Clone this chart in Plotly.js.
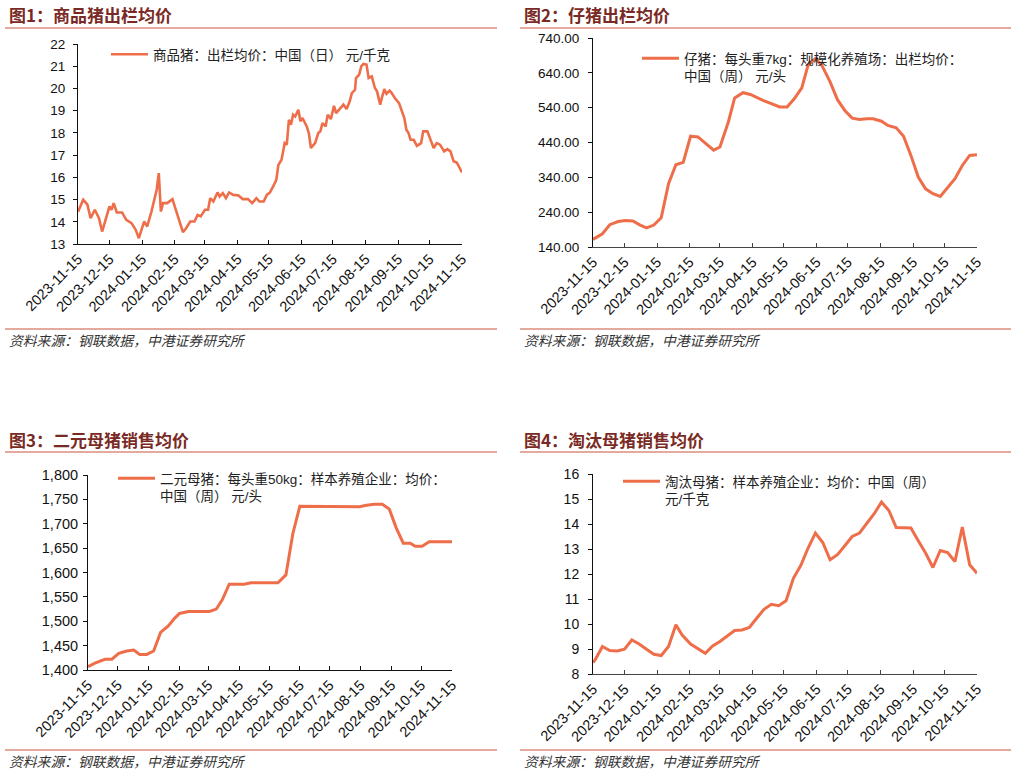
<!DOCTYPE html>
<html>
<head>
<meta charset="utf-8">
<script src="https://cdn.plot.ly/plotly-3.0.1.min.js"></script>
<style>
  html, body { margin: 0; padding: 0; background: #fff; }
  #chart { width: 1017px; height: 772px; }
</style>
</head>
<body>
<div id="chart"></div>
<script>
// ---------- Data ----------
const tickDates = ['2023-11-15','2023-12-15','2024-01-15','2024-02-15','2024-03-15','2024-04-15',
  '2024-05-15','2024-06-15','2024-07-15','2024-08-15','2024-09-15','2024-10-15','2024-11-15'];

// 图1 商品猪：出栏均价：中国（日） 元/千克
const dates1 = ['2023-11-15','2023-11-20','2023-11-24','2023-11-27','2023-12-01','2023-12-05','2023-12-08',
  '2023-12-11','2023-12-15','2023-12-17','2023-12-19','2023-12-22','2023-12-27','2023-12-31','2024-01-05',
  '2024-01-09','2024-01-12','2024-01-17','2024-01-20','2024-01-24','2024-01-27','2024-01-29','2024-01-31',
  '2024-02-02','2024-02-04','2024-02-08','2024-02-13','2024-02-17','2024-02-20','2024-02-23','2024-02-26',
  '2024-03-01','2024-03-05','2024-03-08','2024-03-11','2024-03-15','2024-03-18','2024-03-20','2024-03-23',
  '2024-03-27','2024-03-29','2024-04-01','2024-04-04','2024-04-07','2024-04-11','2024-04-16','2024-04-20',
  '2024-04-25','2024-04-29','2024-05-03','2024-05-06','2024-05-10','2024-05-13','2024-05-16','2024-05-19',
  '2024-05-22','2024-05-24','2024-05-27','2024-05-30','2024-06-01','2024-06-03','2024-06-05','2024-06-07',
  '2024-06-09','2024-06-12','2024-06-14','2024-06-16','2024-06-20','2024-06-22','2024-06-24','2024-06-28',
  '2024-07-01','2024-07-03','2024-07-05','2024-07-08','2024-07-10','2024-07-13','2024-07-16','2024-07-18',
  '2024-07-21','2024-07-25','2024-07-28','2024-07-31','2024-08-02','2024-08-05','2024-08-06','2024-08-09',
  '2024-08-11','2024-08-13','2024-08-16','2024-08-18','2024-08-21','2024-08-24','2024-08-26','2024-08-29',
  '2024-08-31','2024-09-02','2024-09-04','2024-09-07','2024-09-09','2024-09-12','2024-09-16','2024-09-19',
  '2024-09-21','2024-09-23','2024-09-25','2024-09-27','2024-09-30','2024-10-03','2024-10-07','2024-10-09',
  '2024-10-13','2024-10-16','2024-10-19','2024-10-22','2024-10-25','2024-10-29','2024-11-01','2024-11-04',
  '2024-11-07','2024-11-10','2024-11-12','2024-11-15'];
const price1 = [14.45,14.99,14.77,14.16,14.54,14.16,13.56,
  14.09,14.69,14.54,14.84,14.42,14.42,14.09,13.94,
  13.64,13.26,14.01,13.79,14.46,14.99,15.44,16.19,
  14.46,14.84,14.84,15.02,14.39,13.94,13.53,13.71,
  14.01,14.01,14.31,14.24,14.54,14.54,15.06,14.91,
  15.32,15.14,15.29,15.06,15.32,15.21,15.18,15.02,
  15.02,14.84,15.06,14.91,14.91,15.21,15.32,15.59,
  15.89,16.56,16.79,17.54,17.47,18.59,18.37,18.82,
  18.74,19.04,18.52,18.67,18.29,17.99,17.32,17.54,
  17.99,18.07,18.44,18.29,18.82,18.62,19.22,18.89,
  19.04,19.27,19.07,19.42,19.79,19.94,20.47,20.62,
  20.99,21.10,21.07,20.47,20.54,20.02,19.87,19.27,
  19.64,19.97,19.76,19.90,19.79,19.57,19.34,18.89,
  18.67,18.14,17.99,17.69,17.69,17.42,17.54,18.07,
  18.07,17.69,17.32,17.54,17.47,17.17,17.27,17.17,
  16.72,16.67,16.49,16.22];

// 图2 仔猪：每头重7kg：规模化养殖场：出栏均价：中国（周） 元/头
const dates2 = ['2023-11-15','2023-11-24','2023-12-01','2023-12-09','2023-12-16','2023-12-23','2023-12-30',
  '2024-01-05','2024-01-12','2024-01-19','2024-01-26','2024-02-02','2024-02-09','2024-02-16','2024-02-23',
  '2024-03-09','2024-03-15','2024-03-23','2024-03-29','2024-04-06','2024-04-13','2024-04-25','2024-05-11',
  '2024-05-18','2024-05-25','2024-06-01','2024-06-07','2024-06-14','2024-06-20','2024-06-28','2024-07-05',
  '2024-07-12','2024-07-19','2024-07-26','2024-08-02','2024-08-08','2024-08-16','2024-08-22','2024-08-30',
  '2024-09-06','2024-09-13','2024-09-20','2024-09-27','2024-10-04','2024-10-11','2024-10-18','2024-10-25',
  '2024-11-01','2024-11-08','2024-11-15'];
const piglet2 = [162,178,204,213,216,215,203,
  195,203,224,322,376,383,458,456,
  418,427,499,568,583,578,561,542,
  542,566,597,662,681,662,614,563,
  532,510,506,508,508,501,489,482,
  458,403,341,307,293,285,312,336,
  374,403,405];

// 图3 二元母猪：每头重50kg：样本养殖企业：均价：中国（周） 元/头
const dates3 = ['2023-11-15','2023-11-22','2023-12-02','2023-12-09','2023-12-16','2023-12-24','2023-12-31',
  '2024-01-06','2024-01-13','2024-01-20','2024-01-27','2024-02-04','2024-02-10','2024-02-15','2024-02-24',
  '2024-03-06','2024-03-16','2024-03-23','2024-03-29','2024-04-05','2024-04-12','2024-04-20','2024-04-27',
  '2024-05-06','2024-05-24','2024-06-01','2024-06-08','2024-06-15','2024-06-22','2024-07-15','2024-07-27',
  '2024-08-14','2024-08-21','2024-08-29','2024-09-06','2024-09-13','2024-09-20','2024-09-27','2024-10-04',
  '2024-10-09','2024-10-16','2024-10-23','2024-10-30','2024-11-15'];
const sow3 = [1407,1414,1422,1422,1434,1439,1441,
  1432,1432,1439,1477,1491,1506,1516,1520,
  1520,1520,1525,1544,1576,1576,1576,1579,
  1579,1579,1595,1680,1736,1736,1736,1735,
  1735,1738,1740,1740,1730,1691,1660,1660,
  1654,1654,1663,1663,1663];

// 图4 淘汰母猪：样本养殖企业：均价：中国（周） 元/千克
const dates4 = ['2023-11-15','2023-11-17','2023-11-24','2023-12-01','2023-12-08','2023-12-15','2023-12-22',
  '2023-12-29','2024-01-05','2024-01-12','2024-01-19','2024-01-26','2024-02-02','2024-02-08','2024-02-16',
  '2024-02-23','2024-03-01','2024-03-08','2024-03-15','2024-03-22','2024-03-29','2024-04-05','2024-04-12',
  '2024-04-19','2024-04-26','2024-05-03','2024-05-10','2024-05-17','2024-05-24','2024-05-31','2024-06-07',
  '2024-06-14','2024-06-21','2024-06-28','2024-07-05','2024-07-12','2024-07-19','2024-07-26','2024-08-02',
  '2024-08-09','2024-08-16','2024-08-23','2024-08-30','2024-09-06','2024-09-13','2024-09-20','2024-09-27',
  '2024-10-04','2024-10-11','2024-10-18','2024-10-25','2024-11-01','2024-11-08','2024-11-15'];
const cull4 = [8.46,8.56,9.10,8.94,8.92,8.99,9.36,
  9.20,8.99,8.79,8.74,9.10,9.97,9.56,9.20,
  9.03,8.83,9.12,9.30,9.52,9.74,9.76,9.86,
  10.23,10.59,10.79,10.73,10.93,11.83,12.34,13.04,
  13.64,13.26,12.57,12.77,13.13,13.50,13.64,14.04,
  14.41,14.88,14.54,13.86,13.86,13.84,13.33,12.84,
  12.26,12.94,12.86,12.50,13.88,12.37,12.03];

const names = [
  '商品猪：出栏均价：中国（日） 元/千克',
  '仔猪：每头重7kg：规模化养殖场：出栏均价：<br>中国（周） 元/头',
  '二元母猪：每头重50kg：样本养殖企业：均价：<br>中国（周） 元/头',
  '淘汰母猪：样本养殖企业：均价：中国（周）<br>元/千克'
];
const chartTitles = ['图1：商品猪出栏均价','图2：仔猪出栏均价','图3：二元母猪销售均价','图4：淘汰母猪销售均价'];
const sourceText = '资料来源：钢联数据，中港证券研究所';

// ---------- Styling / layout helpers ----------
const W = 1017, H = 772;
const px = v => v / W;
const py = v => 1 - v / H;
const LINE = '#EE6E4A';
const NUMFONT = 'Liberation Sans, Arial, Noto Sans CJK SC, sans-serif';
const CJK = 'Liberation Sans, Noto Sans CJK SC, sans-serif';

const traces = [
  {x: dates1, y: price1, xaxis: 'x', yaxis: 'y', name: names[0], legend: 'legend', lw: 2.6},
  {x: dates2, y: piglet2, xaxis: 'x2', yaxis: 'y2', name: names[1], legend: 'legend2', lw: 3},
  {x: dates3, y: sow3, xaxis: 'x3', yaxis: 'y3', name: names[2], legend: 'legend3', lw: 3},
  {x: dates4, y: cull4, xaxis: 'x4', yaxis: 'y4', name: names[3], legend: 'legend4', lw: 3}
].map(t => ({
  type: 'scatter', mode: 'lines', x: t.x, y: t.y, xaxis: t.xaxis, yaxis: t.yaxis,
  name: t.name, legend: t.legend, showlegend: true,
  line: {color: LINE, width: t.lw}, hoverinfo: 'x+y'
}));

function xAxis(domain, anchor, lineColor) {
  return {
    domain: domain, anchor: anchor, type: 'date',
    range: ['2023-11-15', '2024-11-15'],
    tickmode: 'array', tickvals: tickDates, ticktext: tickDates,
    tickangle: -45, ticks: 'inside', ticklen: 4, tickcolor: lineColor, tickwidth: 1,
    showline: true, linecolor: lineColor, linewidth: 1, mirror: false,
    showgrid: false, zeroline: false,
    tickfont: {family: NUMFONT, size: 14.5, color: '#111'}
  };
}
function yAxis(domain, anchor, range, dtick, fmt, standoff, fsize) {
  return {
    domain: domain, anchor: anchor, range: range, dtick: dtick, tick0: range[0],
    tickformat: fmt, ticks: 'outside', ticklen: 4, tickcolor: '#111', tickwidth: 1,
    ticklabelstandoff: standoff,
    showline: true, linecolor: '#111', linewidth: 1,
    showgrid: false, zeroline: false,
    tickfont: {family: NUMFONT, size: fsize, color: '#111'}
  };
}
function legendAt(xpx, ypx) {
  return {
    x: px(xpx), y: py(ypx), xanchor: 'left', yanchor: 'top',
    bgcolor: 'rgba(0,0,0,0)', borderwidth: 0, valign: 'top', itemwidth: 37,
    font: {family: CJK, size: 13.5, color: '#222'}, itemclick: false, itemdoubleclick: false
  };
}

const annotations = [];
const shapes = [];
// panels: left x, right x, title y, title-rule y, source-rule y, source text y
const panels = [
  {l: 5, r: 497, ty: 15, tr: 28, sr: 329, sy: 340, tx: 7},
  {l: 520, r: 1011, ty: 15, tr: 28, sr: 329, sy: 340, tx: 522},
  {l: 5, r: 497, ty: 439, tr: 452, sr: 750, sy: 761, tx: 7},
  {l: 520, r: 1011, ty: 439, tr: 452, sr: 750, sy: 761, tx: 522}
];
panels.forEach((p, i) => {
  annotations.push({
    xref: 'paper', yref: 'paper', x: px(p.tx), y: py(p.ty), xanchor: 'left', yanchor: 'middle',
    text: '<b>' + chartTitles[i] + '</b>', showarrow: false,
    font: {family: 'Noto Sans CJK SC, sans-serif', size: 17, color: '#7A2A24'}
  });
  annotations.push({
    xref: 'paper', yref: 'paper', x: px(p.tx), y: py(p.sy), xanchor: 'left', yanchor: 'middle',
    text: '<i>' + sourceText + '</i>', showarrow: false,
    font: {family: 'Noto Sans CJK SC, sans-serif', size: 13.8, color: '#333'}
  });
  [p.tr, p.sr].forEach(yy => shapes.push({
    type: 'line', xref: 'paper', yref: 'paper',
    x0: px(p.l), x1: px(p.r), y0: py(yy), y1: py(yy),
    line: {color: '#C8553A', width: 1}
  }));
});

const layout = {
  width: W, height: H,
  margin: {l: 0, r: 0, t: 0, b: 0},
  paper_bgcolor: '#fff', plot_bgcolor: '#fff',
  font: {family: CJK, color: '#222'},
  showlegend: true,
  xaxis: xAxis([px(78), px(462)], 'y', '#111'),
  yaxis: yAxis([py(244), py(44)], 'x', [13, 22], 1, 'd', 5, 13.5),
  xaxis2: xAxis([px(593), px(977)], 'y2', '#444'),
  yaxis2: yAxis([py(247), py(38)], 'x2', [140, 740], 100, '.2f', 6, 13.5),
  xaxis3: xAxis([px(88), px(452)], 'y3', '#111'),
  yaxis3: yAxis([py(670), py(475)], 'x3', [1400, 1800], 50, ',d', 2, 14.5),
  xaxis4: xAxis([px(593), px(977)], 'y4', '#444'),
  yaxis4: yAxis([py(674), py(474)], 'x4', [8, 16], 1, 'd', 6, 14),
  legend: legendAt(106, 39),
  legend2: legendAt(637, 43),
  legend3: legendAt(113, 463),
  legend4: legendAt(618, 466),
  annotations: annotations,
  shapes: shapes
};

Plotly.newPlot('chart', traces, layout, {displayModeBar: false, staticPlot: false, responsive: false});
</script>
</body>
</html>
